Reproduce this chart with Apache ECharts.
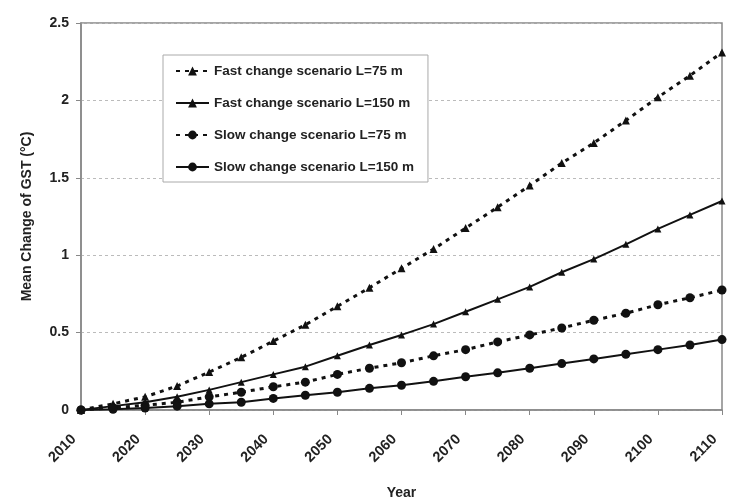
<!DOCTYPE html>
<html><head><meta charset="utf-8">
<script src="https://cdn.jsdelivr.net/npm/echarts@6/dist/echarts.min.js"></script>
<style>html,body{margin:0;padding:0;background:#fff}#c{width:734px;height:498px}</style>
</head><body><div id="c"></div>
<script>
const years = [2010,2015,2020,2025,2030,2035,2040,2045,2050,2055,2060,2065,2070,2075,2080,2085,2090,2095,2100,2105,2110];
const fast75 = [0,0.04,0.085,0.155,0.245,0.34,0.445,0.55,0.67,0.79,0.915,1.04,1.175,1.31,1.45,1.595,1.725,1.87,2.02,2.16,2.31];
const fast150 = [0,0.025,0.05,0.085,0.13,0.18,0.23,0.28,0.35,0.42,0.485,0.555,0.635,0.715,0.795,0.89,0.975,1.07,1.17,1.26,1.35];
const slow75 = [0,0.015,0.03,0.05,0.085,0.115,0.15,0.18,0.23,0.27,0.305,0.35,0.39,0.44,0.485,0.53,0.58,0.625,0.68,0.725,0.775];
const slow150 = [0,0.005,0.013,0.025,0.04,0.05,0.075,0.095,0.115,0.14,0.16,0.185,0.215,0.24,0.27,0.3,0.33,0.36,0.39,0.42,0.455];
const seriesNames = ['Fast change scenario L=75 m','Fast change scenario L=150 m','Slow change scenario L=75 m','Slow change scenario L=150 m'];

const pair = arr => years.map((y,i)=>[y,arr[i]]);
const font = 'Liberation Sans, Arial, sans-serif';
function mk(name, data, dashed, symbol, size){
  return {
    name, type:'line', data: pair(data), symbol, symbolSize:size,
    itemStyle:{color:'#111'},
    lineStyle:{color:'#111', width: dashed?3:2, type: dashed?[4,5]:'solid'},
    z: 3
  };
}
const chart = echarts.init(document.getElementById('c'), null, {renderer:'canvas'});
chart.setOption({
  backgroundColor:'#fff',
  animation:false,
  grid:{left:81, right:12, top:23, bottom:88, outerBoundsMode:'none', containLabel:false, show:true, borderColor:'#888', borderWidth:1.5, backgroundColor:'transparent'},
  legend:{
    orient:'vertical', left:163, top:55, width:265,
    padding:[9,14,8,12], itemGap:18, itemWidth:33, itemHeight:11,
    backgroundColor:'#fff', borderColor:'#aaa', borderWidth:1,
    textStyle:{fontFamily:font, fontSize:13.5, fontWeight:'bold', color:'#222', lineHeight:14},
    data: seriesNames.map(n=>({name:n}))
  },
  xAxis:{
    type:'value', min:2010, max:2110, interval:10,
    name:'Year', nameLocation:'middle', nameGap:76,
    nameTextStyle:{fontFamily:font, fontSize:14, fontWeight:'bold', color:'#222'},
    axisLine:{show:true, lineStyle:{color:'#888', width:1.5}},
    axisTick:{show:true, length:5, lineStyle:{color:'#888'}},
    axisLabel:{rotate:45, margin:20, padding:[0,10,0,0], fontFamily:font, fontSize:14.5, fontWeight:'bold', color:'#222', formatter: v => String(v)},
    splitLine:{show:false}
  },
  yAxis:{
    type:'value', min:0, max:2.5, interval:0.5,
    name:'Mean Change of GST (°C)', nameLocation:'middle', nameGap:47,
    nameTextStyle:{fontFamily:font, fontSize:14, fontWeight:'bold', color:'#222'},
    axisLine:{show:true, lineStyle:{color:'#888', width:1.5}},
    axisTick:{show:true, length:5, lineStyle:{color:'#888'}},
    axisLabel:{margin:12, fontFamily:font, fontSize:14, fontWeight:'bold', color:'#222'},
    splitLine:{show:true, lineStyle:{color:'#bbb', type:[3,3], width:1}}
  },
  series:[
    mk(seriesNames[0], fast75, true, 'triangle', 8),
    mk(seriesNames[1], fast150, false, 'triangle', 7),
    mk(seriesNames[2], slow75, true, 'circle', 9),
    mk(seriesNames[3], slow150, false, 'circle', 9)
  ]
});
</script></body></html>
